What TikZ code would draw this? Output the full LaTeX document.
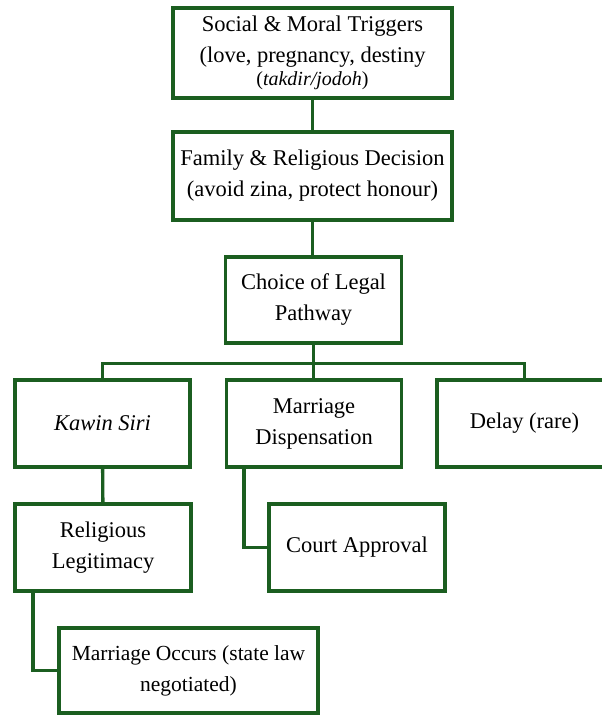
\documentclass[tikz,border=0pt]{standalone}
\usepackage{fontspec}
\setmainfont{Liberation Serif}
\usepackage{xcolor}
\usepackage{tikz}
\usetikzlibrary{positioning}

\definecolor{leafgreen}{RGB}{27,94,32}

\begin{document}
\begin{tikzpicture}[x=1pt, y=-1pt,
		box/.style={draw=leafgreen, line width=3.4pt, fill=white, align=center,
			inner sep=2pt, font=\fontsize{22.5}{31}\selectfont},
		link/.style={draw=leafgreen, line width=3.4pt}]
			\useasboundingbox (0,0) rectangle (602,715);

			% Top chain
			\node[box, minimum width=279, minimum height=90] (trig) at (312.5,53)
				{Social \& Moral Triggers\\(love, pregnancy, destiny\\[-8pt]
				{\fontsize{20}{22}\selectfont(\textit{takdir/jodoh})}};
			\node[box, minimum width=279, minimum height=88] (famdec) at (312.5,176)
				{Family \& Religious Decision\\(avoid zina, protect honour)};
			\node[box, minimum width=176, minimum height=86] (path) at (313.5,300)
				{Choice of Legal\\Pathway};

			% Three pathways
			\node[box, minimum width=175, minimum height=87] (siri) at (102.5,423.5) {\textit{Kawin Siri}};
			\node[box, minimum width=175, minimum height=87] (disp) at (314,423.5) {Marriage\\Dispensation};
			\node[box, minimum width=175, minimum height=87] (delay) at (524.5,423.5) {Delay (rare)};

			% Outcomes
			\node[box, minimum width=176, minimum height=87] (legit) at (103,547.5) {Religious\\Legitimacy};
			\node[box, minimum width=176, minimum height=87] (court) at (357,547.5) {Court Approval};
			\node[box, minimum width=259, minimum height=85, inner sep=0pt,
				font=\fontsize{21.5}{31}\selectfont] (occur) at (188.5,670.5)
				{Marriage Occurs (state law\\negotiated)};

			% Connectors
			\coordinate (fork) at ([yshift=-19]path.south);
			\draw[link] (trig) -- (famdec);
			\draw[link] (famdec.south) -- (famdec.south |- path.north);
			\draw[link] (path.south) -- (fork);
			\draw[link] (siri.north) |- (fork) -| (delay.north);
			\draw[link] (fork) -- (fork |- disp.north);
			\draw[link] (siri) -- (legit);
			\draw[link] ([xshift=-70]disp.south) |- (court.west);
			\draw[link] ([xshift=-70]legit.south) |- (occur.west);
		\end{tikzpicture}
\end{document}
